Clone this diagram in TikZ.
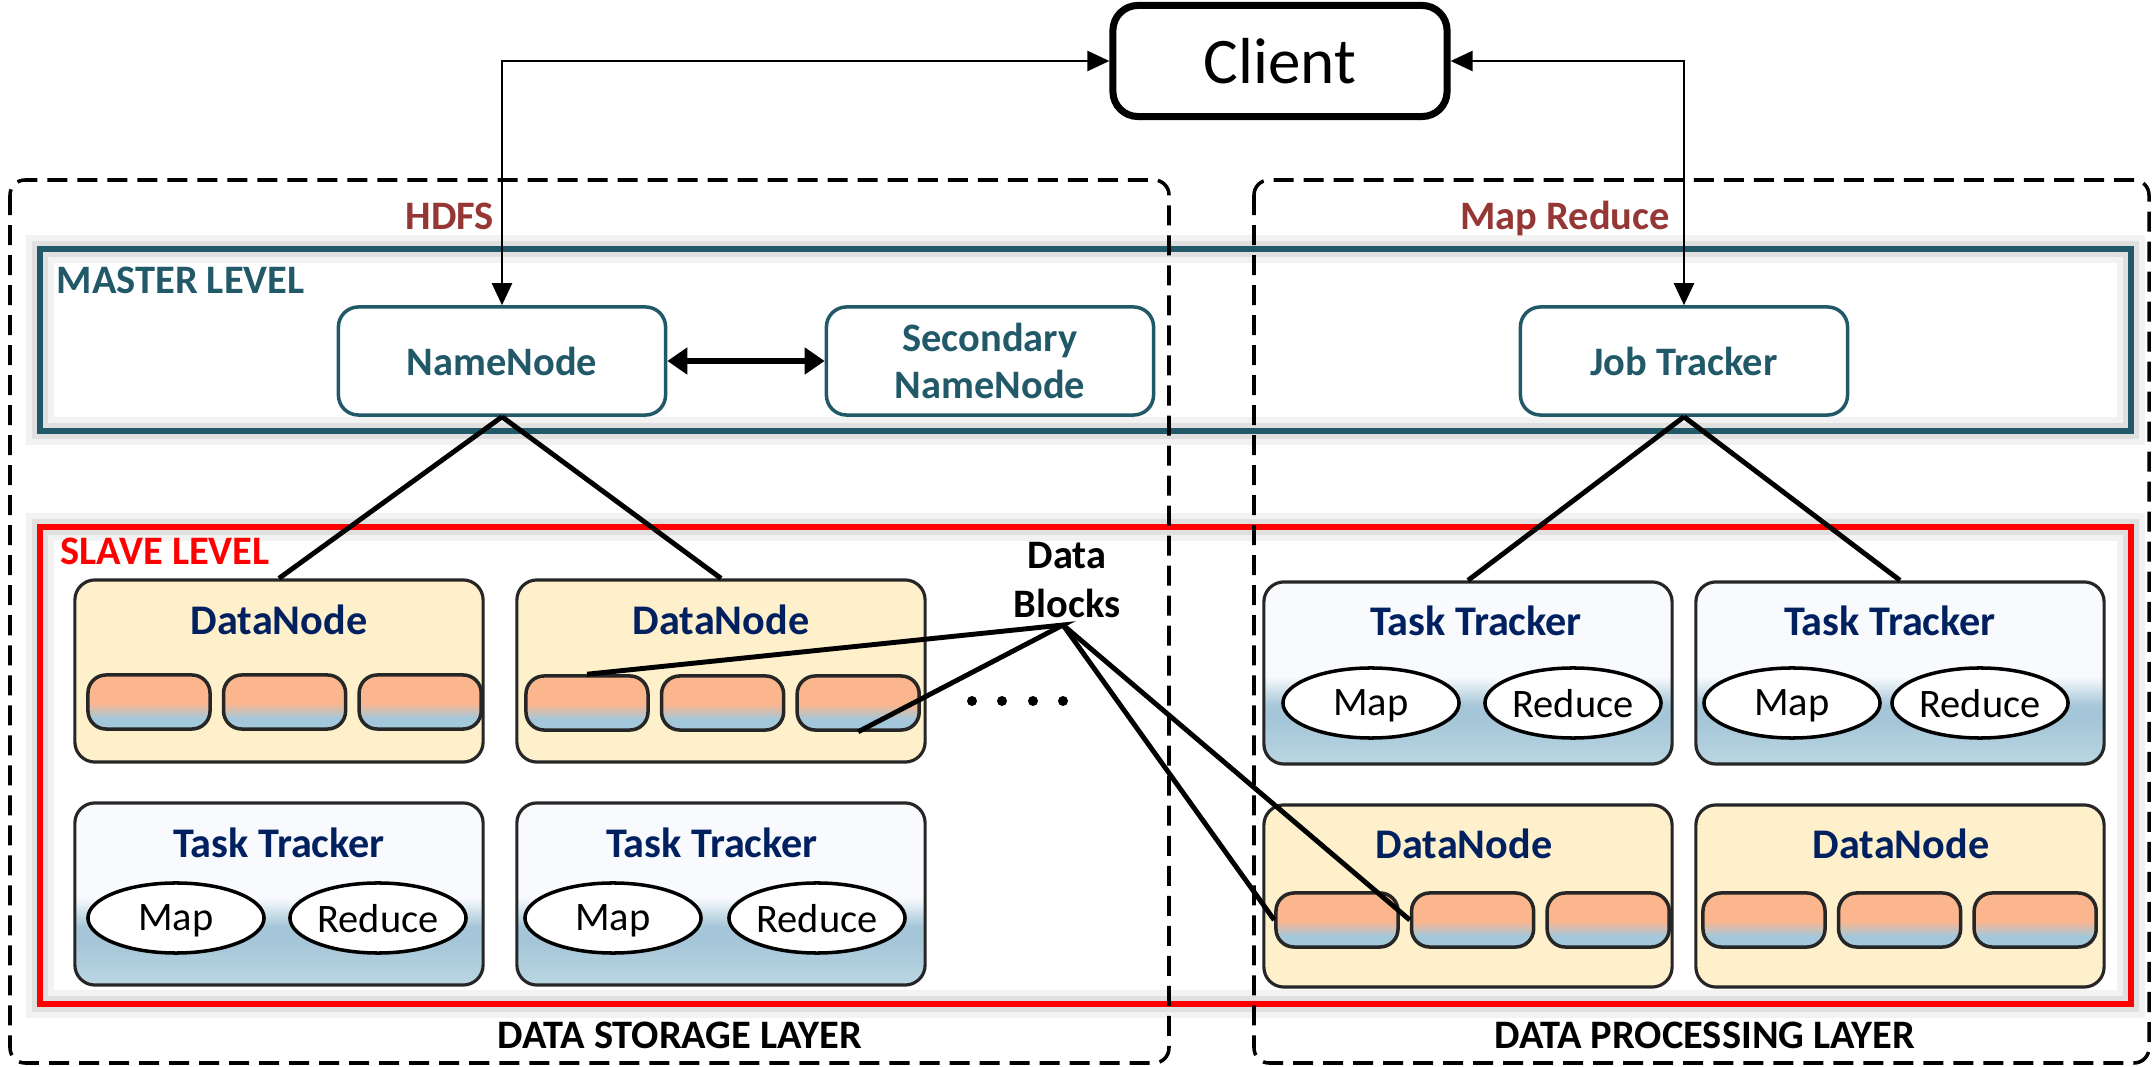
\documentclass[tikz,border=0pt]{standalone}
\usepackage{fontspec}
\setmainfont{Carlito}
\usepackage{tikz}
\usetikzlibrary{arrows.meta,positioning,shapes.geometric}

\definecolor{tealline}{HTML}{215968}
\definecolor{hdfsred}{HTML}{953735}
\definecolor{navytext}{HTML}{002060}
\definecolor{dnfill}{HTML}{FFF0CC}
\definecolor{blkpeach}{HTML}{FBB68E}
\definecolor{blkblue}{HTML}{A3C8DB}
\definecolor{ttwhite}{HTML}{F8FAFD}
\definecolor{ttblue}{HTML}{A5C6D8}
\definecolor{ttlight}{HTML}{BAD6E2}

\pgfdeclareverticalshading{blockshade}{100bp}{color(0bp)=(blkblue); color(35bp)=(blkblue); color(49bp)=(blkpeach); color(100bp)=(blkpeach)}
\pgfdeclareverticalshading{trackershade}{100bp}{color(0bp)=(ttlight); color(25bp)=(ttlight); color(37bp)=(ttblue); color(41bp)=(ttblue); color(49bp)=(ttwhite); color(100bp)=(ttwhite)}

\tikzset{
	every node/.style={font=\fontsize{11.5}{13.5}\selectfont},
	layer/.style={draw, line width=1pt, dash pattern=on 2mm off 1mm, rounded corners=1.5mm},
	level/.style={line width=1.8pt, preaction={draw=black!5, line width=2.8mm}, preaction={draw=black!12, line width=1.6mm}},
	levellabel/.style={anchor=base west, inner sep=0pt, font=\bfseries\fontsize{11.5}{13.5}\selectfont},
	grouplabel/.style={anchor=base, inner sep=0pt, text=hdfsred, font=\bfseries\fontsize{11.5}{13.5}\selectfont},
	layerlabel/.style={anchor=base, inner sep=0pt, font=\bfseries\fontsize{11.5}{13.5}\selectfont},
	client/.style={draw, line width=2pt, rounded corners=2.5mm, fill=white, minimum width=3.34cm, minimum height=1.11cm, inner sep=0pt, font=\fontsize{18.5}{22}\selectfont},
	master/.style={draw=tealline, line width=1pt, rounded corners=2mm, fill=white, text=tealline, align=center, minimum width=3.27cm, minimum height=1.08cm, inner sep=0pt, font=\bfseries\fontsize{11.5}{13.5}\selectfont},
	dnbox/.style={draw=black!85, line width=0.9pt, rounded corners=2mm, fill=dnfill, minimum width=4.08cm, minimum height=1.82cm, inner sep=0pt},
	ttbox/.style={draw=black!85, line width=0.9pt, rounded corners=2mm, shade, shading=trackershade, minimum width=4.08cm, minimum height=1.82cm, inner sep=0pt},
	boxtitle/.style={text=navytext, font=\bfseries\fontsize{12}{14}\selectfont},
	blk/.style={draw=black!85, line width=1pt, rounded corners=1.8mm, shade, shading=blockshade, minimum width=1.22cm, minimum height=0.54cm, inner sep=0pt},
	task/.style={ellipse, draw, line width=1pt, fill=white, minimum width=1.76cm, minimum height=0.7cm, inner sep=0pt, text depth=0pt},
	conn/.style={line width=0.7pt, {Triangle[length=2.2mm,width=2mm]}-{Triangle[length=2.2mm,width=2mm]}},
	biconn/.style={line width=1.6pt, {Triangle[length=2mm,width=2.6mm]}-{Triangle[length=2mm,width=2.6mm]}},
	link/.style={line width=1.4pt},
}

\begin{document}
\begin{tikzpicture}[x=0.01cm, y=-0.01cm, node distance=0.1cm]
	\useasboundingbox[fill=white] (0,0) rectangle (2153,1067);

	% master and slave levels
	\draw[level, draw=tealline] (40,249) rectangle (2131,431);
	\draw[level, draw=red] (40,527) rectangle (2131,1004);

	% the two layers
	\draw[layer] (10,180) rectangle (1169,1063);
	\draw[layer] (1254,180) rectangle (2149,1063);

	\node[grouplabel] (hdfs) at (450,230) {HDFS};
	\node[grouplabel] (mr) at (1565,230) {Map Reduce};
	\node[levellabel, text=tealline] (ml) at (56,294) {MASTER LEVEL};
	\node[levellabel, text=red] (sl) at (60,565) {SLAVE LEVEL};
	\node[layerlabel] (dsl) at (680,1048) {DATA STORAGE LAYER};
	\node[layerlabel] (dpl) at (1705,1048) {DATA PROCESSING LAYER};

	\node[client] (client) at (1280,61) {Client};
	\node[master] (nn) at (502,361) {NameNode};
	\node[master] (snn) at (990,361) {Secondary\\NameNode};
	\node[master] (jt) at (1684,361) {Job Tracker};

	% storage side
	\node[dnbox] (dn1) at (279,671) {};
	\node[boxtitle] (dn1t) at (279,620) {DataNode};
	\node[blk] (b11) at (149,702) {};
	\node[blk, right=of b11] (b12) {};
	\node[blk, right=of b12] (b13) {};

	\node[dnbox] (dn2) at (721,671) {};
	\node[boxtitle] (dn2t) at (721,620) {DataNode};
	\node[blk] (b21) at (587,703) {};
	\node[blk, right=of b21] (b22) {};
	\node[blk, right=of b22] (b23) {};

	\node[ttbox] (tt1) at (279,894) {};
	\node[boxtitle] (tt1t) at (279,843) {Task Tracker};
	\node[task] (map1) at (176,918) {Map};
	\node[task] (red1) at (378,918) {Reduce};

	\node[ttbox] (tt2) at (721,894) {};
	\node[boxtitle] (tt2t) at (712,843) {Task Tracker};
	\node[task] (map2) at (613,918) {Map};
	\node[task] (red2) at (817,918) {Reduce};

	\foreach \x in {972,1002,1033,1063}
		\fill (\x,701) circle (0.5mm);

	\node[font=\bfseries\fontsize{11.5}{14}\selectfont, align=center] (db) at (1067,580) {Data\\Blocks};
	\coordinate (fan) at (1063,625);

	% processing side
	\node[ttbox] (tt3) at (1468,673) {};
	\node[boxtitle] (tt3t) at (1476,621) {Task Tracker};
	\node[task] (map3) at (1371,703) {Map};
	\node[task] (red3) at (1573,703) {Reduce};

	\node[ttbox] (tt4) at (1900,673) {};
	\node[boxtitle] (tt4t) at (1890,621) {Task Tracker};
	\node[task] (map4) at (1792,703) {Map};
	\node[task] (red4) at (1980,703) {Reduce};

	\node[dnbox] (dn3) at (1468,896) {};
	\node[boxtitle] (dn3t) at (1464,844) {DataNode};
	\node[blk] (b31) at (1337,920) {};
	\node[blk, right=of b31] (b32) {};
	\node[blk, right=of b32] (b33) {};

	\node[dnbox] (dn4) at (1900,896) {};
	\node[boxtitle] (dn4t) at (1901,844) {DataNode};
	\node[blk] (b41) at (1764,920) {};
	\node[blk, right=of b41] (b42) {};
	\node[blk, right=of b42] (b43) {};

	% connections
	\draw[conn] (client.west) -| (nn.north);
	\draw[conn] (client.east) -| (jt.north);
	\draw[biconn] (nn.east) -- (snn.west);

	\draw[link] (nn.south) -- (dn1.north);
	\draw[link] (nn.south) -- (dn2.north);
	\draw[link] (jt.south) -- (tt3.north);
	\draw[link] (jt.south) -- (tt4.north);

	\draw[link] (b21.north) -- (fan) -- (b23.south);
	\draw[link] (fan) -- (b31.west);
	\draw[link] (fan) -- (b32.west);
\end{tikzpicture}
\end{document}
